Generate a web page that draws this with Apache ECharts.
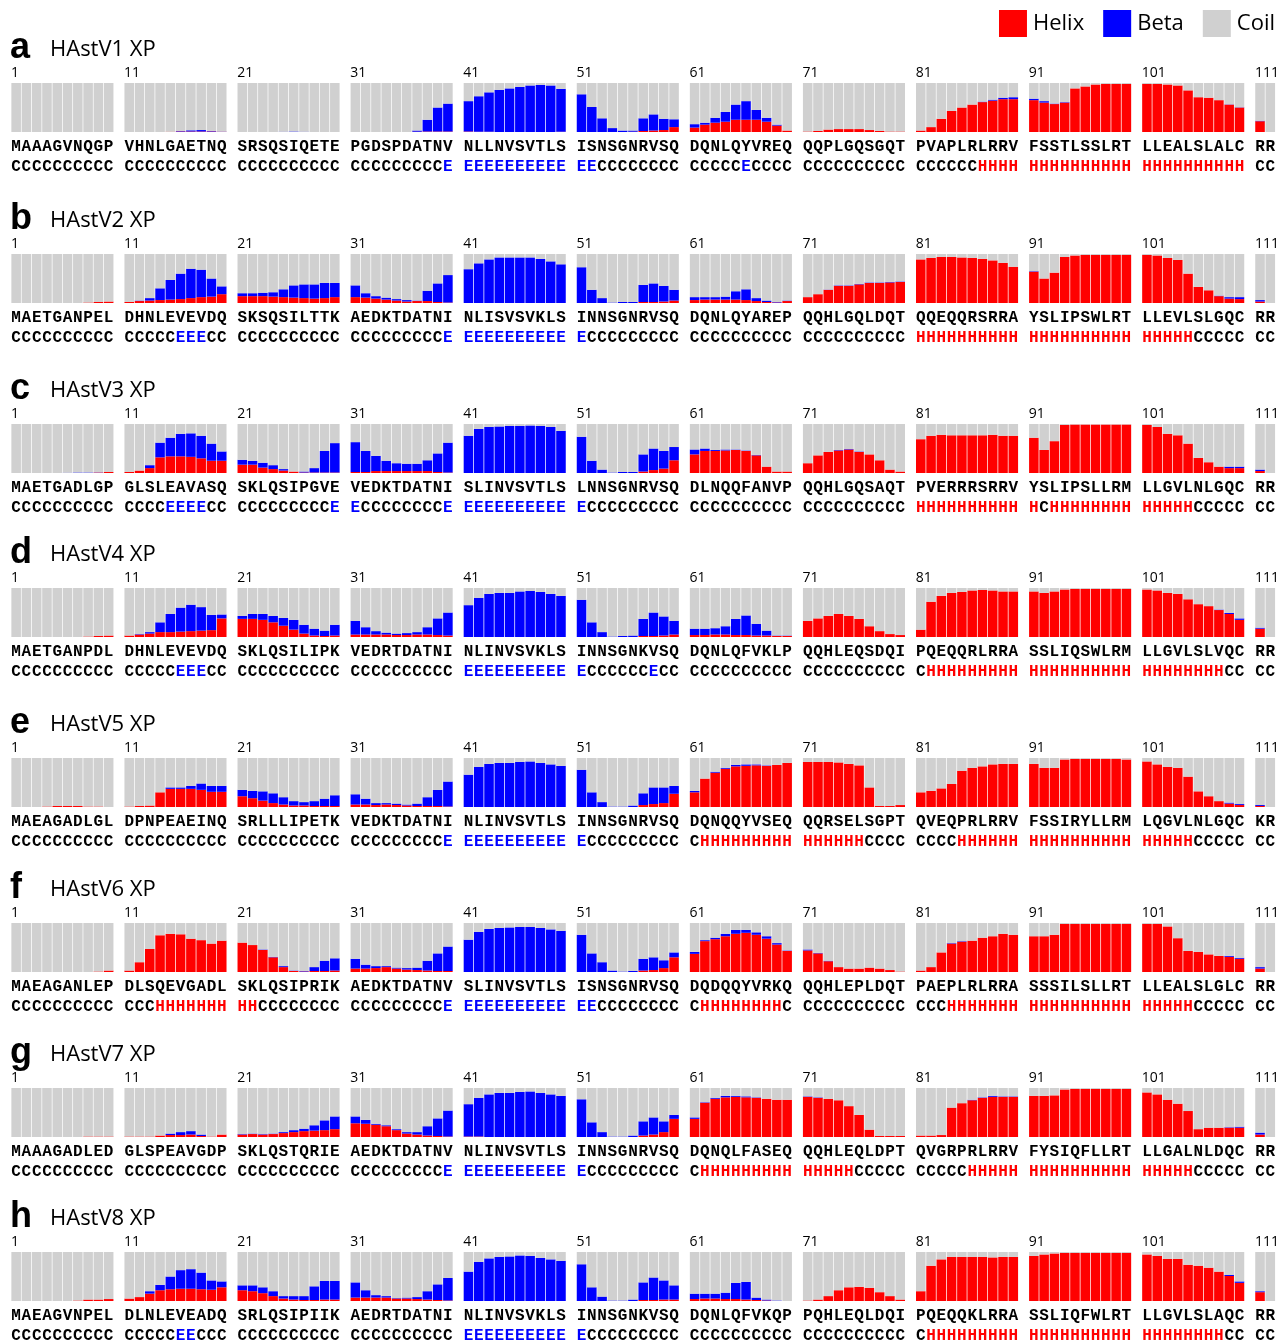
<!DOCTYPE html>
<html>
<head>
<meta charset="utf-8">
<script src="https://cdn.jsdelivr.net/npm/echarts@6/dist/echarts.min.js"></script>
<style>
  html, body { margin: 0; padding: 0; background: #ffffff; }
  #chart { width: 1284px; height: 1343px; }
</style>
</head>
<body>
<div id="chart"></div>
<script>
// ---- Panel labels -------------------------------------------------------
const panelLetters = ['a', 'b', 'c', 'd', 'e', 'f', 'g', 'h'];
const panelNames = ['HAstV1 XP', 'HAstV2 XP', 'HAstV3 XP', 'HAstV4 XP',
                    'HAstV5 XP', 'HAstV6 XP', 'HAstV7 XP', 'HAstV8 XP'];
const blockStarts = [1, 11, 21, 31, 41, 51, 61, 71, 81, 91, 101, 111];
const stateNames = ['Helix', 'Beta', 'Coil'];

// ---- Sequences and predicted secondary structure -------------------------
const sequences = [
  'MAAAGVNQGP VHNLGAETNQ SRSQSIQETE PGDSPDATNV NLLNVSVTLS ISNSGNRVSQ DQNLQYVREQ QQPLGQSGQT PVAPLRLRRV FSSTLSSLRT LLEALSLALC RR',
  'MAETGANPEL DHNLEVEVDQ SKSQSILTTK AEDKTDATNI NLISVSVKLS INNSGNRVSQ DQNLQYAREP QQHLGQLDQT QQEQQRSRRA YSLIPSWLRT LLEVLSLGQC RR',
  'MAETGADLGP GLSLEAVASQ SKLQSIPGVE VEDKTDATNI SLINVSVTLS LNNSGNRVSQ DLNQQFANVP QQHLGQSAQT PVERRRSRRV YSLIPSLLRM LLGVLNLGQC RR',
  'MAETGANPDL DHNLEVEVDQ SKLQSILIPK VEDRTDATNI NLINVSVKLS INNSGNKVSQ DQNLQFVKLP QQHLEQSDQI PQEQQRLRRA SSLIQSWLRM LLGVLSLVQC RR',
  'MAEAGADLGL DPNPEAEINQ SRLLLIPETK VEDKTDATNI NLINVSVTLS INNSGNRVSQ DQNQQYVSEQ QQRSELSGPT QVEQPRLRRV FSSIRYLLRM LQGVLNLGQC KR',
  'MAEAGANLEP DLSQEVGADL SKLQSIPRIK AEDKTDATNV SLINVSVTLS ISNSGNRVSQ DQDQQYVRKQ QQHLEPLDQT PAEPLRLRRA SSSILSLLRT LLEALSLGLC RR',
  'MAAAGADLED GLSPEAVGDP SKLQSTQRIE AEDKTDATNV NLINVSVTLS INNSGNRVSQ DQNQLFASEQ QQHLEQLDPT QVGRPRLRRV FYSIQFLLRT LLGALNLDQC RR',
  'MAEAGVNPEL DLNLEVEADQ SRLQSIPIIK AEDRTDATNI NLINVSVKLS INNSGNKVSQ DQNLQFVKQP PQHLEQLDQI PQEQQKLRRA SSLIQFWLRT LLGVLSLAQC RR'
];
const structures = [
  'CCCCCCCCCC CCCCCCCCCC CCCCCCCCCC CCCCCCCCCE EEEEEEEEEE EECCCCCCCC CCCCCECCCC CCCCCCCCCC CCCCCCHHHH HHHHHHHHHH HHHHHHHHHH CC',
  'CCCCCCCCCC CCCCCEEECC CCCCCCCCCC CCCCCCCCCE EEEEEEEEEE ECCCCCCCCC CCCCCCCCCC CCCCCCCCCC HHHHHHHHHH HHHHHHHHHH HHHHHCCCCC CC',
  'CCCCCCCCCC CCCCEEEECC CCCCCCCCCE ECCCCCCCCE EEEEEEEEEE ECCCCCCCCC CCCCCCCCCC CCCCCCCCCC HHHHHHHHHH HCHHHHHHHH HHHHHCCCCC CC',
  'CCCCCCCCCC CCCCCEEECC CCCCCCCCCC CCCCCCCCCC EEEEEEEEEE ECCCCCCECC CCCCCCCCCC CCCCCCCCCC CHHHHHHHHH HHHHHHHHHH HHHHHHHHCC CC',
  'CCCCCCCCCC CCCCCCCCCC CCCCCCCCCC CCCCCCCCCE EEEEEEEEEE ECCCCCCCCC CHHHHHHHHH HHHHHHCCCC CCCCHHHHHH HHHHHHHHHH HHHHHCCCCC CC',
  'CCCCCCCCCC CCCHHHHHHH HHCCCCCCCC CCCCCCCCCE EEEEEEEEEE EECCCCCCCC CHHHHHHHHC CCCCCCCCCC CCCHHHHHHH HHHHHHHHHH HHHHHCCCCC CC',
  'CCCCCCCCCC CCCCCCCCCC CCCCCCCCCC CCCCCCCCCE EEEEEEEEEE ECCCCCCCCC CHHHHHHHHH HHHHHCCCCC CCCCCHHHHH HHHHHHHHHH HHHHHCCCCC CC',
  'CCCCCCCCCC CCCCCEECCC CCCCCCCCCC CCCCCCCCCC EEEEEEEEEE ECCCCCCCCC CCCCCCCCCC CCCCCCCCCC CHHHHHHHHH HHHHHHHHHH HHHHHHHHCC CC'
];

// ---- Per-residue state probabilities (helix, beta); coil is the remainder --
const helixV1 = [
  0,0,0,0,0,0,0,0,0,0,
  0,0,0,0,.005,.01,.01,.01,.01,.005,
  0,0,0,0,0,0,0,0,0,0,
  0,0,0,0,0,0,.005,.01,.01,.01,
  .01,.005,.005,0,0,0,0,0,0,.005,
  0,0,0,0,0,.005,.02,.03,.04,.1,
  .09,.15,.19,.21,.25,.25,.25,.21,.13,.03,
  .01,.02,.05,.06,.06,.06,.04,.02,.01,.01,
  .03,.1,.27,.43,.5,.56,.61,.64,.67,.67,
  .65,.6,.57,.6,.89,.93,.97,.98,.98,.98,
  .98,.98,.97,.95,.85,.71,.7,.65,.56,.5,
  .22,0];
const betaV1 = [
  0,0,0,0,0,0,0,0,0,0,
  0,0,0,0,0,.01,.025,.03,.01,.005,
  0,0,0,0,.005,.01,.005,0,0,0,
  0,0,0,0,0,0,.025,.24,.49,.57,
  .62,.725,.805,.86,.89,.92,.95,.96,.95,.875,
  .77,.51,.28,.08,.03,.025,.26,.33,.23,.16,
  .07,.04,.1,.2,.31,.38,.2,.08,.02,0,
  0,0,0,0,0,0,0,0,0,0,
  0,0,0,0,0,0,.01,.02,.03,.04,
  .03,.03,.01,.01,0,0,0,0,0,0,
  0,0,0,0,0,0,0,0,.005,.005,
  .01,0];

const helixV2 = [
  0,0,0,0,0,0,0,.01,.02,.03,
  .02,.04,.05,.06,.07,.08,.1,.12,.13,.18,
  .14,.14,.14,.13,.12,.11,.1,.09,.1,.12,
  .12,.11,.09,.07,.05,.03,.04,.04,.02,.01,
  0,0,0,0,0,0,0,0,0,0,
  0,0,0,0,0,0,.02,.02,.03,.05,
  .06,.07,.07,.07,.07,.06,.04,.02,.01,.04,
  .12,.18,.27,.35,.35,.38,.41,.41,.42,.43,
  .89,.92,.94,.94,.93,.92,.9,.87,.82,.74,
  .64,.5,.62,.94,.97,.98,.98,.98,.98,.98,
  .98,.97,.92,.88,.6,.33,.26,.14,.09,.08,
  .03,0];
const betaV2 = [
  0,0,0,0,0,0,0,0,0,0,
  0,.01,.05,.24,.4,.52,.6,.56,.37,.16,
  .06,.06,.07,.09,.16,.25,.28,.29,.31,.29,
  .24,.09,.05,.04,.03,.03,.01,.21,.38,.56,
  .69,.81,.89,.93,.93,.93,.93,.9,.85,.79,
  .73,.27,.1,.01,.02,.02,.35,.38,.32,.22,
  .06,.05,.05,.06,.17,.22,.06,.03,.01,.01,
  0,0,.005,.01,.01,.01,.01,.01,.01,.01,
  0,0,0,0,0,0,0,0,0,0,
  .01,0,0,0,0,0,0,0,0,0,
  0,0,0,0,0,0,0,.01,.03,.04,
  .03,0];

const helixV3 = [
  0,0,0,0,0,0,0,0,.01,.02,
  .02,.05,.1,.32,.34,.34,.33,.3,.25,.25,
  .17,.17,.11,.08,.05,.03,.01,.01,.01,.01,
  .02,.02,.04,.04,.04,.04,.04,.04,.02,.01,
  0,0,0,0,0,0,0,0,0,0,
  0,0,0,0,0,0,.03,.06,.09,.26,
  .38,.45,.45,.46,.47,.45,.36,.13,.03,.03,
  .2,.36,.43,.46,.48,.43,.38,.26,.07,.03,
  .69,.76,.78,.77,.77,.77,.77,.78,.76,.76,
  .72,.47,.65,.98,.99,.99,.99,.99,.99,.99,
  .98,.94,.8,.77,.6,.31,.22,.13,.1,.1,
  .04,0];
const betaV3 = [
  0,0,0,0,0,.005,.01,.01,.005,0,
  0,0,.06,.3,.38,.46,.48,.46,.35,.19,
  .1,.08,.1,.08,.03,0,.02,.09,.44,.6,
  .61,.43,.31,.21,.16,.15,.15,.22,.38,.61,
  .76,.9,.94,.95,.96,.96,.97,.96,.94,.86,
  .74,.25,.07,.01,.02,.02,.35,.44,.36,.27,
  .1,.05,.02,.02,.01,.01,.01,0,0,0,
  0,0,0,.01,.01,.01,0,0,0,0,
  0,0,0,0,0,0,0,0,0,0,
  0,0,0,0,0,0,0,0,0,0,
  0,0,0,0,0,0,0,0,.03,.03,
  .03,0];

const helixV4 = [
  0,0,0,0,0,0,0,.01,.02,.03,
  .03,.05,.07,.1,.1,.11,.12,.13,.14,.38,
  .37,.37,.35,.3,.23,.15,.07,.03,.02,.03,
  .05,.05,.05,.05,.04,.04,.05,.05,.04,.03,
  0,0,0,0,0,0,0,0,0,0,
  0,0,0,0,0,0,.02,.02,.03,.05,
  .04,.04,.05,.05,.04,.04,.03,.03,.02,.02,
  .33,.38,.43,.47,.43,.37,.22,.12,.06,.04,
  .15,.72,.84,.9,.92,.95,.96,.95,.93,.93,
  .93,.9,.93,.97,.98,.98,.98,.98,.98,.98,
  .97,.95,.9,.88,.77,.67,.63,.55,.47,.35,
  .17,0];
const betaV4 = [
  0,0,0,0,0,0,0,0,0,0,
  0,.01,.03,.2,.37,.49,.54,.48,.31,.08,
  .06,.1,.12,.13,.16,.2,.18,.14,.11,.22,
  .28,.15,.07,.04,.03,.04,.05,.15,.34,.47,
  .65,.8,.88,.9,.9,.93,.94,.92,.88,.84,
  .76,.3,.1,.01,.02,.03,.35,.48,.39,.28,
  .13,.13,.13,.17,.33,.4,.24,.1,.01,.01,
  0,0,0,0,0,0,0,0,0,0,
  0,0,0,0,0,0,0,0,0,0,
  0,0,0,0,0,0,0,0,0,0,
  0,0,0,0,0,0,0,.01,.02,.03,
  .02,0];

const helixV5 = [
  0,0,0,.01,.02,.02,.02,.01,.01,0,
  .01,.02,.03,.3,.37,.37,.37,.35,.31,.31,
  .22,.18,.13,.08,.05,.03,.03,.02,.02,.02,
  .05,.05,.04,.05,.04,.03,.02,.02,.02,.01,
  0,0,0,0,0,0,0,0,0,0,
  0,0,0,0,0,0,.04,.06,.08,.27,
  .3,.58,.7,.78,.83,.84,.85,.84,.86,.9,
  .92,.92,.92,.91,.88,.85,.4,.02,.02,.04,
  .3,.33,.38,.47,.74,.8,.83,.87,.88,.88,
  .88,.8,.8,.97,.98,.98,.98,.98,.98,.97,
  .93,.87,.82,.8,.62,.32,.22,.12,.07,.04,
  .02,0];
const betaV5 = [
  0,0,0,0,0,0,0,0,0,0,
  0,0,0,0,.03,.03,.06,.13,.12,.12,
  .13,.15,.19,.2,.15,.09,.07,.1,.15,.22,
  .21,.12,.04,.03,.03,.02,.05,.18,.33,.51,
  .66,.82,.88,.9,.9,.92,.93,.9,.87,.84,
  .76,.3,.1,.01,.01,.03,.24,.34,.32,.16,
  .03,0,.02,.02,.03,.03,.02,.01,0,0,
  0,0,0,0,0,0,0,0,0,0,
  0,0,0,0,0,0,0,0,0,0,
  0,0,0,0,0,0,0,0,0,0,
  0,0,0,0,0,0,0,0,.02,.02,
  .02,0];

const helixV6 = [
  0,0,0,0,0,0,0,0,.01,.03,
  .03,.2,.47,.75,.78,.77,.68,.65,.58,.64,
  .6,.55,.45,.3,.1,.02,.01,.02,.02,.03,
  .07,.07,.08,.1,.07,.05,.04,.03,.02,.02,
  0,0,0,0,0,0,0,0,0,0,
  0,0,0,0,0,0,.03,.04,.08,.3,
  .37,.63,.67,.73,.78,.8,.76,.68,.56,.43,
  .44,.38,.22,.1,.07,.07,.09,.07,.04,.01,
  .03,.1,.4,.58,.62,.64,.7,.73,.78,.76,
  .73,.73,.76,.98,.98,.98,.98,.98,.98,.98,
  .98,.98,.93,.69,.43,.41,.36,.33,.31,.27,
  .07,0];
const betaV6 = [
  0,0,0,0,0,0,0,0,0,0,
  0,0,0,0,0,0,0,0,0,0,
  0,0,.01,.01,.02,.01,.01,.08,.21,.25,
  .2,.08,.04,.02,.02,.03,.05,.2,.36,.5,
  .66,.82,.88,.9,.91,.92,.92,.9,.87,.84,
  .76,.38,.2,.03,.01,.02,.24,.26,.16,.1,
  .04,.02,.03,.05,.08,.06,.05,.05,.03,.01,
  .02,.01,.01,0,0,0,0,0,0,0,
  0,0,0,.01,.01,0,0,0,0,0,
  0,0,0,0,0,0,0,0,0,0,
  0,0,0,0,0,0,0,0,.02,.02,
  .03,0];

const helixV7 = [
  0,0,0,0,0,0,0,.01,.01,.01,
  .01,.01,.01,.03,.04,.04,.05,.02,.01,.05,
  .05,.06,.05,.06,.08,.1,.12,.13,.14,.16,
  .28,.27,.25,.22,.14,.07,.05,.03,.02,.01,
  .01,.01,0,0,0,0,0,0,0,0,
  0,0,0,0,0,0,.03,.05,.1,.37,
  .37,.7,.78,.81,.82,.81,.8,.78,.76,.76,
  .82,.8,.78,.75,.63,.45,.15,.02,.02,.02,
  .03,.03,.04,.6,.69,.75,.8,.82,.82,.82,
  .84,.84,.85,.97,.98,.98,.98,.98,.98,.98,
  .91,.87,.76,.68,.53,.16,.19,.19,.19,.19,
  .05,0];
const betaV7 = [
  0,0,0,0,0,0,0,0,0,0,
  0,0,0,0,.03,.06,.07,.03,0,0,
  .01,.01,.01,.01,.02,.04,.05,.11,.2,.26,
  .14,.08,.02,.02,.02,.03,.05,.19,.36,.53,
  .66,.79,.87,.9,.9,.92,.93,.9,.87,.84,
  .77,.3,.1,.01,.01,.03,.29,.35,.22,.08,
  .03,.01,.02,.03,.02,.02,.01,0,0,0,
  .01,.01,0,0,0,0,0,0,0,0,
  0,0,0,0,0,.01,.01,.02,.01,.01,
  0,0,0,0,0,0,0,0,0,0,
  0,0,0,0,0,0,0,0,.01,.02,
  .04,0];

const helixV8 = [
  0,0,0,0,0,0,.01,.03,.03,.04,
  .05,.08,.15,.22,.24,.25,.25,.24,.23,.28,
  .22,.2,.16,.1,.05,.03,.02,.02,.03,.03,
  .07,.07,.07,.07,.05,.05,.04,.03,.02,.01,
  0,0,0,0,0,0,0,0,0,0,
  0,0,0,0,0,0,.02,.02,.03,.03,
  .04,.05,.05,.04,.04,.03,.02,.01,0,0,
  .01,.03,.1,.22,.28,.29,.27,.18,.1,.03,
  .2,.72,.85,.9,.9,.9,.9,.89,.9,.9,
  .92,.95,.97,.98,.98,.98,.98,.98,.98,.98,
  .95,.92,.86,.86,.74,.72,.68,.6,.51,.37,
  .18,0];
const betaV8 = [
  0,0,0,0,0,0,0,0,0,0,
  0,0,.05,.11,.26,.38,.4,.34,.19,.12,
  .1,.12,.12,.1,.05,.07,.08,.28,.38,.38,
  .31,.15,.05,.03,.01,.02,.04,.17,.32,.46,
  .6,.8,.87,.9,.91,.93,.92,.88,.85,.82,
  .75,.28,.09,.01,.01,.03,.36,.46,.39,.29,
  .11,.1,.1,.13,.33,.36,.05,.02,.01,0,
  0,0,0,0,0,0,0,0,0,0,
  0,0,0,0,0,0,0,0,0,0,
  0,0,0,0,0,0,0,0,0,0,
  0,0,0,0,0,0,0,0,.02,.03,
  .02,0];

const helixSets = [helixV1, helixV2, helixV3, helixV4, helixV5, helixV6, helixV7, helixV8];
const betaSets = [betaV1, betaV2, betaV3, betaV4, betaV5, betaV6, betaV7, betaV8];

// ---- Layout ------------------------------------------------------------
const COLORS = { Helix: '#ff0000', Beta: '#0000ff', Coil: '#d0d0d0' };
const BLOCK = 10;                                   // residues per block
const RESIDUES = 112;
const SLOTS = RESIDUES + Math.floor((RESIDUES - 1) / BLOCK); // residues + one spacer slot between blocks
const SLOT_W = 10.28;
const GRID_LEFT = 11;
const PLOT_H = 49;
const plotTops = [83, 254, 424, 588, 758, 923, 1088, 1252];
const MONO = 'Liberation Mono';
const SANS = 'Open Sans';
const LETTER_SIZE = 16;

function slotOf(r) { return r + Math.floor(r / BLOCK); }
function spread(values, empty) {
  const out = new Array(SLOTS).fill(empty);
  values.forEach((v, r) => { out[slotOf(r)] = v; });
  return out;
}
const slotNames = Array.from({ length: SLOTS }, (_, i) => String(i));

const grids = [], xAxes = [], yAxes = [], series = [], titles = [];

panelLetters.forEach((letter, p) => {
  const top = plotTops[p];
  const seqLabels = spread(sequences[p].replace(/ /g, '').split(''), '');
  const ssLabels = spread(structures[p].replace(/ /g, '').split(''), '');
  const helix = helixSets[p];
  const beta = betaSets[p];
  const coil = helix.map((h, i) => Math.max(0, Math.round((1 - h - beta[i]) * 1000) / 1000));

  titles.push({
    text: letter, left: 10, top: top - 53, padding: 0,
    textStyle: { fontFamily: 'Liberation Sans', fontWeight: 'bold', fontSize: 36, color: '#000' }
  });
  titles.push({
    text: panelNames[p], left: 50, top: top - 44, padding: 0,
    textStyle: { fontFamily: SANS, fontWeight: 'normal', fontSize: 22, color: '#000' }
  });

  grids.push({ left: GRID_LEFT, top: top, width: SLOTS * SLOT_W, height: PLOT_H,
               containLabel: false, outerBoundsMode: 'none' });

  const base = xAxes.length;
  // residue letters under each bar
  xAxes.push({
    type: 'category', gridIndex: p, data: slotNames, position: 'bottom',
    axisLine: { show: false }, axisTick: { show: false }, splitLine: { show: false },
    axisLabel: {
      interval: 0, margin: 7, fontFamily: MONO, fontWeight: 'bold', fontSize: LETTER_SIZE, color: '#000',
      formatter: v => seqLabels[+v] || ''
    }
  });
  // predicted state letters, coloured by state
  xAxes.push({
    type: 'category', gridIndex: p, data: slotNames, position: 'bottom', offset: 20,
    axisLine: { show: false }, axisTick: { show: false }, splitLine: { show: false },
    axisLabel: {
      interval: 0, margin: 7,
      formatter: v => { const c = ssLabels[+v]; return c ? '{' + c + '|' + c + '}' : ''; },
      rich: {
        C: { fontFamily: MONO, fontWeight: 'bold', fontSize: LETTER_SIZE, color: '#000000' },
        E: { fontFamily: MONO, fontWeight: 'bold', fontSize: LETTER_SIZE, color: '#0000ff' },
        H: { fontFamily: MONO, fontWeight: 'bold', fontSize: LETTER_SIZE, color: '#ff0000' }
      }
    }
  });
  // residue numbers at the start of each block
  xAxes.push({
    type: 'value', gridIndex: p, position: 'top', min: 0, max: SLOTS, interval: BLOCK + 1,
    axisLine: { show: false }, axisTick: { show: false }, splitLine: { show: false },
    axisLabel: {
      margin: 3, align: 'left', fontFamily: SANS, fontSize: 14, color: '#000',
      showMinLabel: true, showMaxLabel: true,
      formatter: v => {
        const k = v / (BLOCK + 1);
        return (Number.isInteger(k) && k < blockStarts.length) ? String(blockStarts[k]) : '';
      }
    }
  });

  yAxes.push({ type: 'value', gridIndex: p, min: 0, max: 1, show: false });

  [['Helix', helix], ['Beta', beta], ['Coil', coil]].forEach(([name, vals]) => {
    series.push({
      name: name, type: 'bar', xAxisIndex: base, yAxisIndex: p, stack: 'states' + p,
      barCategoryGap: '7%', silent: true,
      itemStyle: { color: COLORS[name] },
      emphasis: { disabled: true },
      data: spread(vals, null)
    });
  });
});

const chart = echarts.init(document.getElementById('chart'), null, { renderer: 'canvas' });
chart.setOption({
  animation: false,
  backgroundColor: '#ffffff',
  title: titles,
  legend: {
    data: stateNames, right: 9, top: 10, padding: 0,
    icon: 'rect', itemWidth: 28, itemHeight: 27, itemGap: 19,
    selectedMode: false,
    textStyle: { fontFamily: SANS, fontSize: 22, color: '#000', padding: [2, 0, 0, 1] }
  },
  grid: grids,
  xAxis: xAxes,
  yAxis: yAxes,
  series: series
});
</script>
</body>
</html>
